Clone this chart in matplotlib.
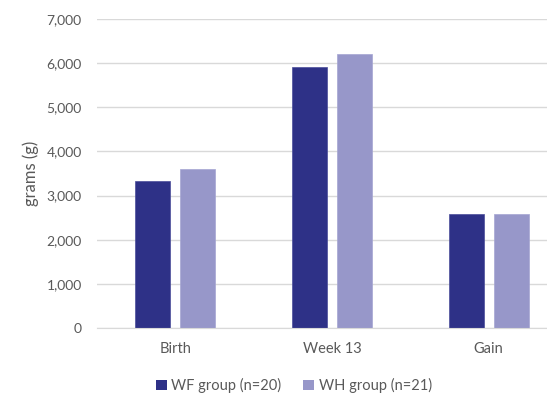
import matplotlib
matplotlib.use("Agg")
import matplotlib.pyplot as plt
import numpy as np
from matplotlib.patches import Patch
from matplotlib.ticker import FuncFormatter

categories = ["Birth", "Week 13", "Gain"]
wf_values = [3320, 5910, 2580]
wh_values = [3600, 6200, 2590]
series_names = ["WF group (n=20)", "WH group (n=21)"]

plt.rcParams['font.family'] = ['Lato', 'DejaVu Sans']
text_col = "#595959"
grid_col = "#D9D9D9"
c_wf = "#2E3187"
c_wh = "#9797C9"

fig = plt.figure(figsize=(5.47, 3.94), dpi=100)
ax = fig.add_axes([97/547, 1-328.3/394, 470/547, (328.3-18.7)/394])

x = np.arange(len(categories))
w = 0.224
off = 0.144
ax.bar(x - off, wf_values, w, color=c_wf, edgecolor="#4A4D9A", linewidth=0.5, zorder=3)
ax.bar(x + off, wh_values, w, color=c_wh, edgecolor="#A5A5D2", linewidth=0.5, zorder=3)

ax.set_xlim(-0.5, 2.5)
ax.set_ylim(0, 7000)
ax.set_yticks(range(0, 7001, 1000))
ax.yaxis.set_major_formatter(FuncFormatter(lambda v, p: f"{int(v):,}"))
ax.set_xticks(x)
ax.set_xticklabels(categories)
ax.tick_params(axis='both', length=0, colors=text_col, labelsize=10.5)
ax.tick_params(axis='y', labelsize=10, pad=11)
ax.tick_params(axis='x', pad=10)
ax.grid(axis='y', color=grid_col, linewidth=1, zorder=0)
for s in ["top", "right", "left"]:
    ax.spines[s].set_visible(False)
ax.spines["bottom"].set_color(grid_col)
ax.spines["bottom"].set_zorder(4)
ax.set_ylabel("grams (g)", color=text_col, fontsize=12)
ax.yaxis.set_label_coords(-58/470, 0.5)

handles = [Patch(facecolor=c_wf), Patch(facecolor=c_wh)]
leg = fig.legend(handles, series_names, loc="center", bbox_to_anchor=(294/547, 1-385.5/394),
                 ncol=2, frameon=False, handlelength=0.75, handleheight=0.75,
                 handletextpad=0.3, columnspacing=1.5, fontsize=10.5)
for t in leg.get_texts():
    t.set_color(text_col)

fig.savefig("out.png", dpi=100)
